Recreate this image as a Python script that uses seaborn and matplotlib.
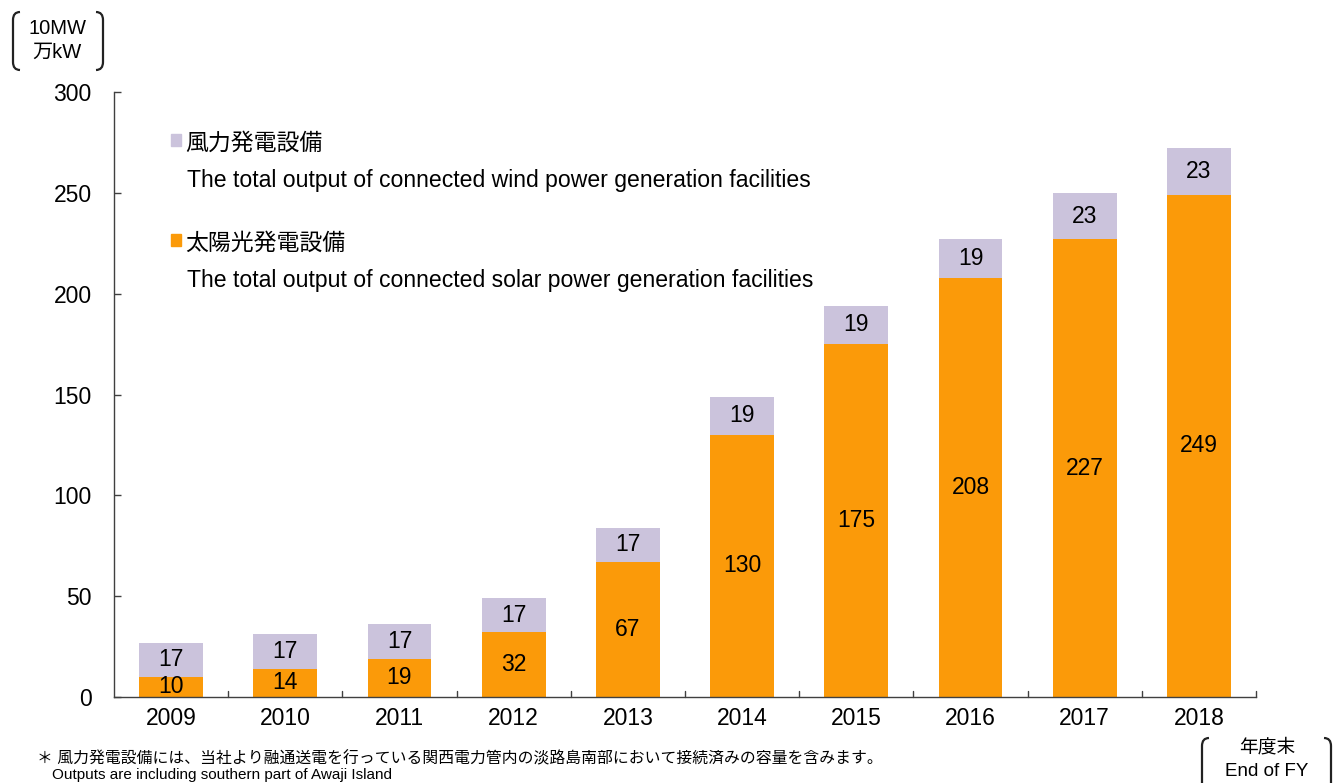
import numpy as np
import pandas as pd
import matplotlib.pyplot as plt
import seaborn as sns
from matplotlib.path import Path
from matplotlib.patches import PathPatch

# ==========================================
# DATA
# ==========================================

years = ["2009", "2010", "2011", "2012", "2013", "2014", "2015", "2016", "2017", "2018"]
solar = [10, 14, 19, 32, 67, 130, 175, 208, 227, 249]
wind = [17, 17, 17, 17, 17, 19, 19, 19, 23, 23]

y_ticks = [0, 50, 100, 150, 200, 250, 300]

wind_label_jp = "風力発電設備"
wind_label_en = "The total output of connected wind power generation facilities"
solar_label_jp = "太陽光発電設備"
solar_label_en = "The total output of connected solar power generation facilities"
unit_lines = ["10MW", "万kW"]
fy_lines = ["年度末", "End of FY"]
note_jp = "＊ 風力発電設備には、当社より融通送電を行っている関西電力管内の淡路島南部において接続済みの容量を含みます。"
note_en = "Outputs are including southern part of Awaji Island"

df = pd.DataFrame({"Year": years, "Solar": solar, "Wind": wind})

# ==========================================
# STYLE
# ==========================================

sns.set_style("white")
plt.rcParams["font.family"] = ["Liberation Sans", "Noto Sans CJK JP", "DejaVu Sans"]
plt.rcParams["text.color"] = "black"
plt.rcParams["xtick.labelcolor"] = "black"
plt.rcParams["ytick.labelcolor"] = "black"

ORANGE = "#FB9A09"
LAVENDER = "#CBC3DC"
AXIS = "#404040"
W, H = 1334, 783

fig = plt.figure(figsize=(W / 100, H / 100), dpi=100)
ax = fig.add_axes([114 / W, 1 - 697 / H, (1256 - 114) / W, (697 - 92) / H])

# ==========================================
# STACKED BARS
# ==========================================

sns.barplot(data=df, x="Year", y="Solar", color=ORANGE, width=0.56,
            saturation=1, ax=ax, linewidth=0)
sns.barplot(data=df, x="Year", y="Wind", bottom=df["Solar"], color=LAVENDER,
            width=0.56, saturation=1, ax=ax, linewidth=0)

for i, (s, w) in enumerate(zip(solar, wind)):
    ax.text(i, s / 2, str(s), ha="center", va="center", fontsize=16.5, color="black")
    ax.text(i, s + w / 2, str(w), ha="center", va="center", fontsize=16.5, color="black")

# ==========================================
# AXES
# ==========================================

ax.set_xlim(-0.5, 9.5)
ax.set_ylim(0, 300)
ax.set_yticks(y_ticks)
ax.set_xlabel("")
ax.set_ylabel("")
for side in ["top", "right"]:
    ax.spines[side].set_visible(False)
for side in ["left", "bottom"]:
    ax.spines[side].set_color(AXIS)
    ax.spines[side].set_linewidth(1.0)

ax.tick_params(axis="y", direction="in", length=5, width=1, color=AXIS,
               labelsize=16.5, pad=16, left=True, labelcolor="black")
ax.tick_params(axis="x", length=0, labelsize=16.5, pad=7, labelcolor="black")

# category separators on the x axis
for b in np.arange(0.5, 10.0, 1.0):
    ax.plot([b, b], [0, 3], color=AXIS, lw=1, clip_on=False)

# ==========================================
# LEGEND TEXT
# ==========================================

def fx(px):
    return px / W

def fy(py):
    return 1 - py / H

fig.patches.append(plt.Rectangle((fx(171), fy(146)), 10 / W, 12 / H, color=LAVENDER,
                                 transform=fig.transFigure, figure=fig))
fig.text(fx(185), fy(143), wind_label_jp, fontsize=16.5, va="center")
fig.text(fx(187), fy(181), wind_label_en, fontsize=16.6, va="center")
fig.patches.append(plt.Rectangle((fx(171), fy(246)), 10 / W, 12 / H, color=ORANGE,
                                 transform=fig.transFigure, figure=fig))
fig.text(fx(185), fy(243), solar_label_jp, fontsize=16.5, va="center")
fig.text(fx(187), fy(281), solar_label_en, fontsize=16.6, va="center")

# ==========================================
# BRACKETED LABELS
# ==========================================

def bracket(x, y0, y1, dx):
    # rounded bracket in pixel coords, dx>0 opens right
    r = 8
    verts = [(x + dx, y0), (x, y0), (x, y0 + r), (x, y1 - r), (x, y1), (x + dx, y1)]
    codes = [Path.MOVETO, Path.CURVE3, Path.CURVE3, Path.LINETO, Path.CURVE3, Path.CURVE3]
    verts = [(fx(a), fy(b)) for a, b in verts]
    fig.patches.append(PathPatch(Path(verts, codes), fill=False, lw=1.6,
                                 edgecolor="#222222", transform=fig.transFigure))

bracket(13, 12, 70, 7)
bracket(103, 12, 70, -7)
fig.text(fx(57), fy(29), unit_lines[0], fontsize=14.5, ha="center", va="center")
fig.text(fx(57), fy(52), unit_lines[1], fontsize=14.5, ha="center", va="center")

bracket(1202, 738, 800, 7)
bracket(1331, 738, 800, -7)
fig.text(fx(1267), fy(748), fy_lines[0], fontsize=13.5, ha="center", va="center")
fig.text(fx(1267), fy(772), fy_lines[1], fontsize=13.5, ha="center", va="center")

# ==========================================
# FOOTNOTE
# ==========================================

fig.text(fx(37), fy(759), note_jp, fontsize=11.4, va="center")
fig.text(fx(52), fy(775), note_en, fontsize=11, va="center")

plt.savefig("out.png", dpi=100)
